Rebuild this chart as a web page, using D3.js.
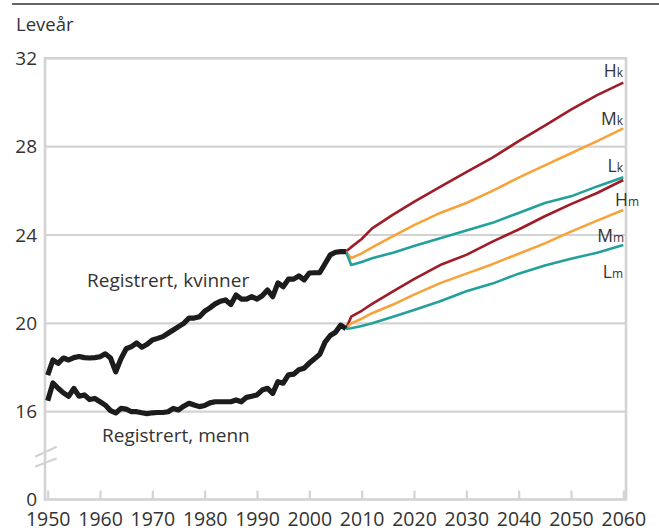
<!DOCTYPE html>
<html><head><meta charset="utf-8">
<script src="https://cdn.jsdelivr.net/npm/d3@7"></script>
<style>
body{margin:0;background:#fff}
svg{display:block}
text{font-family:"Open Sans",sans-serif;fill:#333}
</style>
</head><body>
<svg id="c" width="659" height="530"></svg>
<script>
// ---------- DATA ----------
const regYears = [1950,1951,1952,1953,1954,1955,1956,1957,1958,1959,
  1960,1961,1962,1963,1964,1965,1966,1967,1968,1969,
  1970,1971,1972,1973,1974,1975,1976,1977,1978,1979,
  1980,1981,1982,1983,1984,1985,1986,1987,1988,1989,
  1990,1991,1992,1993,1994,1995,1996,1997,1998,1999,
  2000,2001,2002,2003,2004,2005,2006,2007];
const registeredWomen = [17.66,18.34,18.19,18.43,18.34,18.45,18.5,18.45,18.43,18.45,
  18.49,18.62,18.43,17.81,18.4,18.85,18.95,19.11,18.92,19.05,
  19.25,19.32,19.4,19.55,19.7,19.85,20.0,20.24,20.24,20.3,
  20.55,20.7,20.88,21.0,21.06,20.85,21.28,21.1,21.1,21.21,
  21.1,21.25,21.51,21.21,21.83,21.66,22.0,22.0,22.15,21.97,
  22.28,22.29,22.3,22.7,23.1,23.22,23.25,23.25];
const registeredMen = [16.5,17.3,17.06,16.85,16.7,17.05,16.7,16.76,16.55,16.6,
  16.45,16.3,16.05,15.77,16.15,16.12,16.0,16.0,15.8,15.65,
  15.8,15.85,15.85,16.0,16.15,16.08,16.25,16.38,16.3,16.23,
  16.28,16.4,16.45,16.45,16.45,16.45,16.53,16.45,16.65,16.7,
  16.76,16.98,17.06,16.83,17.36,17.29,17.67,17.7,17.9,17.97,
  18.2,18.4,18.6,19.15,19.45,19.6,19.92,19.76];

const projYears = [2007,2008,2010,2012,2016,2020,2025,2030,2035,2040,2045,2050,2055,2060];
const highWomen = [23.25,23.45,23.82,24.3,24.92,25.5,26.18,26.85,27.5,28.25,28.95,29.68,30.33,30.9];
const midWomen  = [23.25,22.95,23.17,23.44,23.95,24.45,25.0,25.45,26.0,26.6,27.15,27.7,28.25,28.83];
const lowWomen  = [23.25,22.64,22.78,22.95,23.2,23.5,23.85,24.2,24.55,25.0,25.45,25.75,26.2,26.61];
const highMen   = [19.76,20.3,20.57,20.88,21.45,22.0,22.64,23.1,23.7,24.25,24.85,25.4,25.9,26.49];
const midMen    = [19.76,20.0,20.21,20.46,20.85,21.3,21.82,22.25,22.68,23.15,23.62,24.15,24.65,25.13];
const lowMen    = [19.76,19.78,19.88,20.0,20.3,20.6,21.0,21.45,21.8,22.25,22.62,22.92,23.2,23.55];

const xTicks = [1950,1960,1970,1980,1990,2000,2010,2020,2030,2040,2050,2060];
const yTicks = [0,16,20,24,28,32];
const gridValues = [16,20,24,28];
const yTitle = "Leveår";

const colorHigh = "#9e1c27", colorMid = "#f8a23a", colorLow = "#22a19b";
const projSeries = [
  {values: highWomen, color: colorHigh},
  {values: midWomen,  color: colorMid},
  {values: lowWomen,  color: colorLow},
  {values: highMen,   color: colorHigh},
  {values: midMen,    color: colorMid},
  {values: lowMen,    color: colorLow}
];
const projLabels = [
  {main:"H", sub:"k", value:31.14, right:623},
  {main:"M", sub:"k", value:28.98, right:623},
  {main:"L", sub:"k", value:26.87, right:623},
  {main:"H", sub:"m", value:25.33, right:639},
  {main:"M", sub:"m", value:23.67, right:624},
  {main:"L", sub:"m", value:22.04, right:623}
];

// ---------- CHART ----------
const svg = d3.select("#c");
const x = d3.scaleLinear().domain([1950,2060]).range([47.7,623.3]);
const y = d3.scaleLinear().domain([0,16,32]).range([499.5,411.7,58.3]);
const frameL = 45, frameR = 626, frameT = y(32), frameB = y(0);
const grey = "#d3d3d3";

// top rule
svg.append("line").attr("x1",12).attr("x2",659).attr("y1",4).attr("y2",4)
  .attr("stroke","#333").attr("stroke-width",1.5);

// title
svg.append("text").attr("x",16).attr("y",31).style("font-size","18.5px").text(yTitle);

// gridlines
svg.append("g").selectAll("line").data(gridValues).join("line")
  .attr("x1",frameL).attr("x2",frameR)
  .attr("y1",d=>y(d)).attr("y2",d=>y(d))
  .attr("stroke",grey).attr("stroke-width",2.2);

// frame
svg.append("rect").attr("x",frameL).attr("y",frameT)
  .attr("width",frameR-frameL).attr("height",frameB-frameT)
  .attr("fill","none").attr("stroke",grey).attr("stroke-width",2.6);

// x axis ticks and labels
const xAxis = svg.append("g").attr("transform",`translate(0,${frameB})`)
  .call(d3.axisBottom(x).tickValues(xTicks).tickFormat(d3.format("d")).tickSize(-9).tickPadding(13));
xAxis.select(".domain").remove();
xAxis.selectAll("line").attr("stroke",grey).attr("stroke-width",2.2);
xAxis.selectAll("text").style("font-size","19.5px").attr("fill","#333")
  .style("font-family","'Open Sans',sans-serif");

// y axis labels
const yAxis = svg.append("g").attr("transform",`translate(${frameL},0)`)
  .call(d3.axisLeft(y).tickValues(yTicks).tickSize(0).tickPadding(8));
yAxis.select(".domain").remove();
yAxis.selectAll("text").style("font-size","19px").attr("fill","#333")
  .style("font-family","'Open Sans',sans-serif");

// axis break marks
const brk = svg.append("g").attr("stroke",grey).attr("stroke-width",2.2);
brk.append("line").attr("x1",35).attr("y1",456.7).attr("x2",56.7).attr("y2",446.7);
brk.append("line").attr("x1",35).attr("y1",466.7).attr("x2",56.7).attr("y2",458.3);

// lines
const line = d3.line().x(d=>x(d[0])).y(d=>y(d[1]));
projSeries.forEach(s=>{
  svg.append("path").datum(projYears.map((yr,i)=>[yr,s.values[i]]))
    .attr("d",line).attr("fill","none").attr("stroke",s.color)
    .attr("stroke-width",2.6).attr("stroke-linejoin","round");
});
[registeredWomen, registeredMen].forEach(vals=>{
  svg.append("path").datum(regYears.map((yr,i)=>[yr,vals[i]]))
    .attr("d",line).attr("fill","none").attr("stroke","#1c1c1c")
    .attr("stroke-width",5.2).attr("stroke-linejoin","round");
});

// series labels
svg.append("text").attr("x",87).attr("y",287).style("font-size","19px").text("Registrert, kvinner");
svg.append("text").attr("x",102).attr("y",442).style("font-size","19px").text("Registrert, menn");

projLabels.forEach(l=>{
  const t = svg.append("text").attr("x",l.right).attr("y",y(l.value))
    .attr("text-anchor","end").style("font-size","17.5px");
  t.append("tspan").text(l.main);
  t.append("tspan").style("font-size","12px").text(l.sub);
});
</script>
</body></html>
